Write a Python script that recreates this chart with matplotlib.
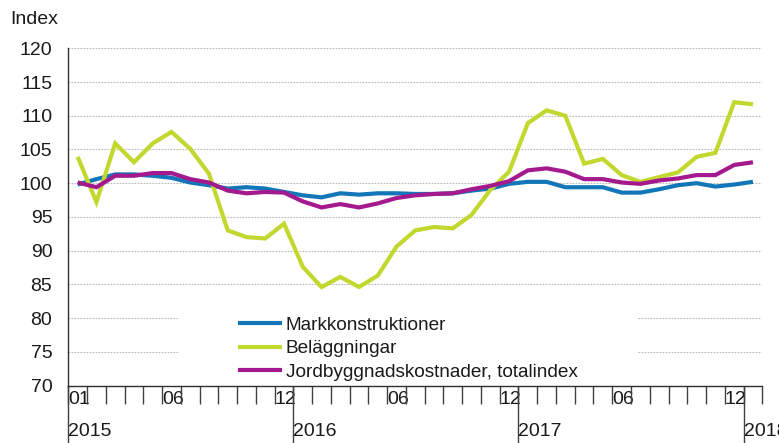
import matplotlib
matplotlib.use("Agg")
import matplotlib.pyplot as plt
from matplotlib.patches import Rectangle
import numpy as np

plt.rcParams['font.family'] = ['Liberation Sans', 'DejaVu Sans']

# Months 2015-01 .. 2018-01
months = [f"{y}-{m:02d}" for y in (2015, 2016, 2017) for m in range(1, 13)] + ["2018-01"]

markkonstruktioner = [99.8, 100.6, 101.3, 101.3, 101.1, 100.8, 100.1, 99.7, 99.2, 99.4,
                      99.2, 98.7, 98.2, 97.9, 98.5, 98.3, 98.5, 98.5, 98.4, 98.4,
                      98.5, 98.9, 99.2, 99.9, 100.2, 100.2, 99.4, 99.4, 99.4, 98.6,
                      98.6, 99.1, 99.7, 100.0, 99.5, 99.8, 100.2]
belaggningar = [103.9, 97.2, 105.9, 103.1, 105.9, 107.6, 105.1, 101.4, 93.0, 92.0,
                91.8, 94.0, 87.6, 84.6, 86.1, 84.6, 86.3, 90.6, 93.0, 93.5,
                93.3, 95.3, 99.0, 101.7, 108.9, 110.8, 110.0, 102.9, 103.6, 101.2,
                100.2, 100.9, 101.6, 103.9, 104.5, 112.0, 111.7]
totalindex = [100.1, 99.4, 101.1, 101.1, 101.5, 101.5, 100.6, 100.1, 98.9, 98.5,
              98.7, 98.6, 97.3, 96.4, 96.9, 96.4, 97.0, 97.8, 98.2, 98.4,
              98.5, 99.1, 99.6, 100.3, 101.9, 102.2, 101.7, 100.6, 100.6, 100.1,
              99.9, 100.4, 100.7, 101.2, 101.2, 102.7, 103.1]

series_names = ["Markkonstruktioner", "Beläggningar", "Jordbyggnadskostnader, totalindex"]
colors = ["#1276b8", "#c2d82e", "#a5198f"]

month_label_pos = {0: "01", 5: "06", 11: "12", 17: "06", 23: "12", 29: "06", 35: "12"}
year_label_pos = {0: "2015", 12: "2016", 24: "2017", 36: "2018"}
yticks = list(range(70, 121, 5))

W, H = 779, 443
fig = plt.figure(figsize=(W / 100, H / 100), dpi=100)
ax_l, ax_r, ax_b, ax_t = 68.3, 762.3, 385.5, 48.3
ax = fig.add_axes([ax_l / W, 1 - ax_b / H, (ax_r - ax_l) / W, (ax_b - ax_t) / H])

x = np.arange(len(months))
text_color = "#1a1a1a"
px = 72 / 100
FS = 14

# grid
for v in yticks[1:]:
    ax.axhline(v, color="#b8b8b8", lw=0.8, ls=(0, (1.5, 1.2)), zorder=1)

# legend background
ax.add_patch(Rectangle((0.1595, 0.0), 0.66, 0.26, transform=ax.transAxes,
                       facecolor="white", edgecolor="none", zorder=2))

for vals, name, c in zip([markkonstruktioner, belaggningar, totalindex], series_names, colors):
    ax.plot(x, vals, color=c, lw=3.0, label=name, zorder=3, solid_capstyle="butt",
            solid_joinstyle="miter")

ax.set_xlim(-0.5, len(months) - 0.5)
ax.set_ylim(70, 120)

ax.set_yticks(yticks)
ax.set_yticklabels([str(v) for v in yticks], fontsize=FS, color=text_color)
ax.tick_params(axis="y", length=0, pad=16 * px)

# x ticks: years major, months minor
ax.xaxis.remove_overlapping_locs = False
year_ticks = [i - 0.5 for i in year_label_pos]
ax.set_xticks(year_ticks)
ax.set_xticklabels(list(year_label_pos.values()), fontsize=FS, color=text_color)
month_ticks = [i - 0.5 for i in range(len(months) + 1)]
ax.set_xticks(month_ticks, minor=True)
ax.set_xticklabels([month_label_pos.get(i, "") for i in range(len(months) + 1)],
                   minor=True, fontsize=FS, color=text_color)
ax.tick_params(axis="x", which="major", length=57 * px, width=1.0, color="#404040",
               direction="out", pad=-20 * px)
ax.tick_params(axis="x", which="minor", length=18 * px, width=1.0, color="#404040",
               direction="out", pad=-12 * px)
for lab in ax.get_xticklabels() + ax.get_xticklabels(minor=True):
    lab.set_horizontalalignment("left")

for s in ("top", "right"):
    ax.spines[s].set_visible(False)
for s in ("left", "bottom"):
    ax.spines[s].set_color("#303030")
    ax.spines[s].set_linewidth(1.0)

leg = ax.legend(loc="upper left", bbox_to_anchor=(0.2445, 0.205), frameon=False,
                fontsize=13.7, handlelength=2.3, handletextpad=0.2, labelspacing=0.33,
                borderpad=0, borderaxespad=0)
for t in leg.get_texts():
    t.set_color(text_color)

fig.text(10 / W, 1 - 19 / H, "Index", fontsize=FS, color=text_color, ha="left", va="center")

fig.savefig("out.png", dpi=100)
